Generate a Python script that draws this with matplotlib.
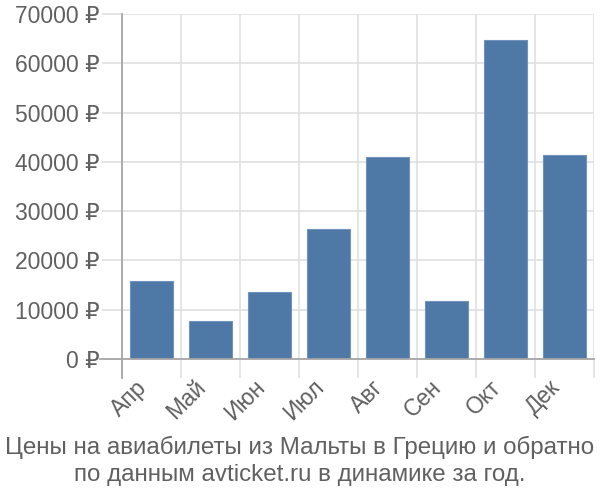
import matplotlib
matplotlib.use("Agg")
import matplotlib.pyplot as plt

plt.rcParams['font.family'] = ['Liberation Sans', 'DejaVu Sans']

# monthly prices, rubles
months = ["Апр", "Май", "Июн", "Июл", "Авг", "Сен", "Окт", "Дек"]
prices = [15900, 7800, 13600, 26300, 40900, 11700, 64800, 41400]
y_ticks = [0, 10000, 20000, 30000, 40000, 50000, 60000, 70000]
title = ("Цены на авиабилеты из Мальты в Грецию и обратно\n"
         "по данным avticket.ru в динамике за год.")

bar_color = "#4e79a7"
grid_color = "#e0e0e0"
axis_color = "#a6a6a6"
text_color = "#606060"

fig = plt.figure(figsize=(6, 5), dpi=100)
ax = fig.add_axes([122 / 600, 1 - 359 / 500, 472 / 600, 345 / 500])

x = range(len(months))
ax.bar(x, prices, width=0.72, color=bar_color, edgecolor="#6f93bd",
       linewidth=0.8, zorder=3)

ax.set_xlim(-0.5, len(months) - 0.5)
ax.set_ylim(0, 70000)

# y axis
ax.set_yticks(y_ticks)
ax.set_yticklabels([f"{v} ₽" for v in y_ticks])
ax.tick_params(axis="y", length=14.4, width=1.2, color=grid_color, pad=1.5,
               labelsize=16.5, labelcolor=text_color)
ax.yaxis.grid(True, color=grid_color, linewidth=1.2, zorder=0)

# x axis: labels centred, grid on category boundaries
ax.set_xticks(list(x))
ax.set_xticklabels(months, rotation=45, ha="right")
ax.set_xticks([i - 0.5 for i in range(len(months) + 1)], minor=True)
ax.tick_params(axis="x", which="major", length=0, pad=12,
               labelsize=16.5, labelcolor=text_color)
ax.tick_params(axis="x", which="minor", length=13.7, width=1.2,
               color=grid_color)
ax.xaxis.grid(True, which="minor", color=grid_color, linewidth=1.2, zorder=0)

for s in ax.spines.values():
    s.set_visible(False)
ax.plot([-0.5 - 22 / 59, len(months) - 0.5], [0, 0], color=axis_color,
        linewidth=1.3, clip_on=False, zorder=4)
ax.axvline(-0.5, ymin=-19 / 345, ymax=1, color=axis_color, linewidth=1.3,
           clip_on=False, zorder=4)

fig.text(0.5, 1 - 461 / 500, title, ha="center", va="center",
         fontsize=17.4, color=text_color, linespacing=1.25)

fig.savefig("out.png", dpi=100)
